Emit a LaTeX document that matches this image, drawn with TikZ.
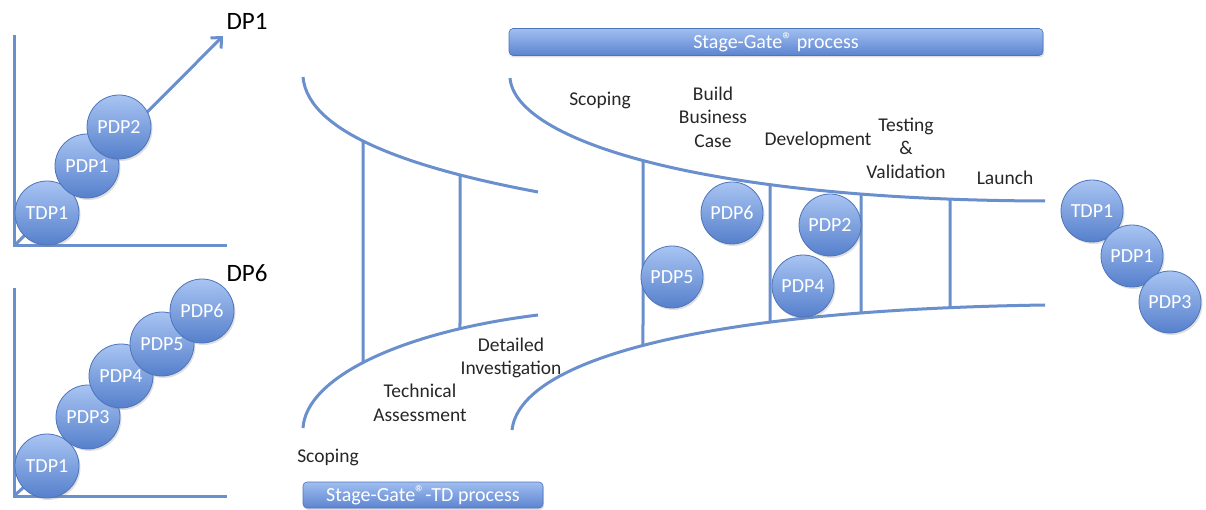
\documentclass[tikz,border=0pt]{standalone}
\usepackage{fontspec}
\setmainfont{Carlito}
\usetikzlibrary{arrows.meta,shadows,intersections}
\definecolor{lineblue}{RGB}{106,143,205}
\definecolor{balltop}{RGB}{168,196,242}
\definecolor{ballbot}{RGB}{86,128,204}
\definecolor{ballrim}{RGB}{78,116,186}
\definecolor{bantop}{RGB}{160,190,240}
\definecolor{banbot}{RGB}{92,132,208}
\newcommand{\regmark}{\raisebox{0.1em}{\fontsize{20}{20}\selectfont ®}}
\tikzset{
  ln/.style={draw=lineblue,line width=3pt},
  ball/.style={circle,minimum size=#1,inner sep=0pt,top color=balltop,bottom color=ballbot,
    draw=ballrim,line width=0.8pt,text=white,font=\fontsize{20}{22}\selectfont,
    drop shadow={opacity=0.25,shadow xshift=1.5pt,shadow yshift=-2pt}},
  ball/.default=64pt,
  lbl/.style={align=center,text=black!85,font=\fontsize{19.5}{23.5}\selectfont,inner sep=0pt},
  dp/.style={text=black,font=\fontsize{25}{28}\selectfont,inner sep=0pt},
  banner/.style={rounded corners=4pt,top color=bantop,bottom color=banbot,draw=ballrim,line width=0.6pt,
    text=white,font=\fontsize{20}{22}\selectfont,inner sep=0pt,
    drop shadow={opacity=0.25,shadow xshift=1pt,shadow yshift=-2pt}}
}
\begin{document}
\begin{tikzpicture}[x=1pt,y=-1pt]
\useasboundingbox (0,0) rectangle (1206,510);
% ---------- top-left chart ----------
\coordinate (o1) at (14,246);
\coordinate (ax1) at (14,35);
\coordinate (ay1) at (227,246);
\coordinate (tip1) at (223,36);
\draw[ln] (ax1) -- (o1) -- (ay1);
\draw[ln,-{Straight Barb[length=8pt,width=15pt,line width=3pt]}] (o1) -- (tip1);
\node[ball] (a1) at (47,213) {TDP1};
\node[ball] (a2) at (87,166) {PDP1};
\node[ball] (a3) at (119,127) {PDP2};
\node[dp] (dp1) at (247,21) {DP1};
% ---------- bottom-left chart ----------
\coordinate (o2) at (14,496);
\coordinate (ax2) at (14,288);
\coordinate (ay2) at (227,496);
\coordinate (bc) at (47,466);
\draw[ln] (ax2) -- (o2) -- (ay2);
\draw[ln] (o2) -- (bc);
\node[ball] (b1) at (bc) {TDP1};
\node[ball] (b2) at (88,417) {PDP3};
\node[ball] (b3) at (121,376) {PDP4};
\node[ball] (b4) at (162,344) {PDP5};
\node[ball] (b5) at (202,311) {PDP6};
\node[dp] (dp6) at (247,273) {DP6};
% ---------- middle funnel (TD) ----------
\draw[ln,name path=mu] (303,77) .. controls (308,135) and (420,170) .. (538,192);
\draw[ln,name path=ml] (303,428) .. controls (306,378) and (400,332) .. (538,315);
\path[name path=v1] (363,0) -- (363,510);
\path[name path=v2] (460,0) -- (460,510);
\path[name intersections={of=v1 and mu,by=g1t}];
\path[name intersections={of=v1 and ml,by=g1b}];
\path[name intersections={of=v2 and mu,by=g2t}];
\path[name intersections={of=v2 and ml,by=g2b}];
\draw[ln] (g1t) -- (g1b);
\draw[ln] (g2t) -- (g2b);
\node[lbl] (tdscop) at (328,457) {Scoping};
\node[lbl] (tdtech) at (420,403) {Technical\\Assessment};
\node[lbl] (tddet) at (511,358) {Detailed\\Investigation};
\node[banner,minimum width=240pt,minimum height=26pt] (tdban) at (423,495) {Stage-Gate\regmark-TD process};
% ---------- right funnel (Stage-Gate) ----------
\node[banner,minimum width=534pt,minimum height=27pt] (sgban) at (776,42) {Stage-Gate\regmark\ process};
\draw[ln,name path=ru] (510,78) .. controls (515,140) and (700,200) .. (1045,201);
\draw[ln,name path=rl] (512,430) .. controls (520,360) and (700,310) .. (1045,305);
\foreach \x/\n in {643/r1,770/r2,861/r3,950/r4}{
  \path[name path=vv] (\x,0) -- (\x,510);
  \path[name intersections={of=vv and ru,by=\n t}];
  \path[name intersections={of=vv and rl,by=\n b}];
  \draw[ln] (\n t) -- (\n b);
}
\node[lbl] (sscop) at (600,100) {Scoping};
\node[lbl] (sbuild) at (713,117) {Build\\Business\\Case};
\node[lbl] (sdev) at (818,140) {Development};
\node[lbl] (stest) at (906,148) {Testing\\\&\\Validation};
\node[lbl] (slaunch) at (1005,178) {Launch};
\node[ball=62pt] (c6) at (732,213) {PDP6};
\node[ball=62pt] (c5) at (672,277) {PDP5};
\node[ball=62pt] (c2) at (830,225) {PDP2};
\node[ball=62pt] (c4) at (803,286) {PDP4};
% ---------- right column ----------
\node[ball=62pt] (d1) at (1092,211) {TDP1};
\node[ball=62pt] (d2) at (1132,256) {PDP1};
\node[ball=62pt] (d3) at (1170,302) {PDP3};
\end{tikzpicture}
\end{document}
